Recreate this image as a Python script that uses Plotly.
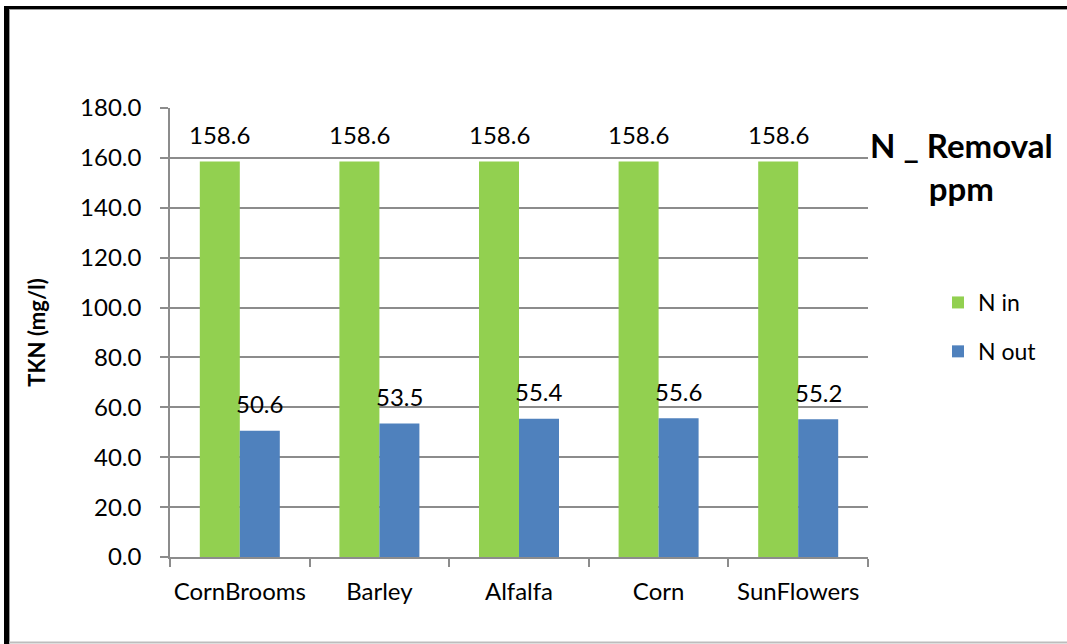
import plotly.graph_objects as go

# Crop categories and nitrogen values (TKN, mg/l)
crops = ["CornBrooms", "Barley", "Alfalfa", "Corn", "SunFlowers"]
n_in = [158.6, 158.6, 158.6, 158.6, 158.6]
n_out = [50.6, 53.5, 55.4, 55.6, 55.2]
y_ticks = [0, 20, 40, 60, 80, 100, 120, 140, 160, 180]

GREEN = "#92D050"
BLUE = "#4F81BD"
GRID = "#8C8C8C"
FONT = "Lato, 'Open Sans', sans-serif"
FS = 24

W, H = 1067, 644
L, R, T, B = 170, 199, 108, 87
PW, PH = W - L - R, H - T - B


def px(x):
    return (x - L) / PW


def py(y):
    return (H - B - y) / PH


fig = go.Figure()
fig.add_trace(go.Bar(name="N in", x=crops, y=n_in, legendgroup="a",
                     marker=dict(color=GREEN, line=dict(width=0))))
fig.add_trace(go.Bar(name="N out", x=crops, y=n_out, legendgroup="b",
                     marker=dict(color=BLUE, line=dict(width=0))))

# value labels above each bar
annotations = []
for c, v in zip(crops, n_in):
    annotations.append(dict(x=c, y=v, text=f"{v:.1f}", showarrow=False, xshift=-20, yshift=27,
                            font=dict(size=FS, color="#000000", family=FONT)))
for c, v in zip(crops, n_out):
    annotations.append(dict(x=c, y=v, text=f"{v:.1f}", showarrow=False, xshift=20, yshift=27,
                            font=dict(size=FS, color="#000000", family=FONT)))

annotations.append(dict(xref="paper", yref="paper", x=px(961), y=py(166), xanchor="center",
                        yanchor="middle", text="<b>N _ Removal<br>ppm</b>",
                        showarrow=False, align="center",
                        font=dict(size=33, color="#000000", family=FONT)))

# chart frame
shapes = [
    dict(type="line", xref="paper", yref="paper", x0=px(4), x1=px(W), y0=py(7.5), y1=py(7.5),
         line=dict(color="#000000", width=3)),
    dict(type="line", xref="paper", yref="paper", x0=px(6.5), x1=px(6.5), y0=py(6), y1=py(H),
         line=dict(color="#000000", width=5)),
    dict(type="line", xref="paper", yref="paper", x0=px(9.5), x1=px(9.5), y0=py(9), y1=py(H),
         line=dict(color="#9A9A9A", width=1)),
    dict(type="line", xref="paper", yref="paper", x0=px(9), x1=px(W), y0=py(9.5), y1=py(9.5),
         line=dict(color="#9A9A9A", width=1)),
    dict(type="line", xref="paper", yref="paper", x0=px(9), x1=px(W), y0=py(642.5), y1=py(642.5),
         line=dict(color="#BDBDBD", width=2)),
]

fig.update_layout(
    width=W, height=H,
    margin=dict(l=L, r=R, t=T, b=B, autoexpand=False),
    paper_bgcolor="#FFFFFF", plot_bgcolor="#FFFFFF",
    barmode="group", bargap=0.427, bargroupgap=0,
    font=dict(family=FONT, size=FS, color="#000000"),
    showlegend=True,
    legend=dict(x=px(938), y=py(281), xanchor="left", yanchor="top", traceorder="grouped",
                font=dict(size=23, family=FONT), tracegroupgap=16, itemwidth=30,
                bgcolor="rgba(0,0,0,0)"),
    annotations=annotations,
    shapes=shapes,
    xaxis=dict(showline=True, linecolor=GRID, linewidth=1.5, ticks="outside", tickson="boundaries",
               ticklen=8, tickcolor=GRID, tickwidth=1.5, showgrid=False, tickangle=0,
               automargin=False, tickfont=dict(size=FS, family=FONT), ticklabelstandoff=12),
    yaxis=dict(range=[0, 180], tickvals=y_ticks, tickformat=".1f", showline=True, linecolor=GRID,
               linewidth=1.5, ticks="outside", ticklen=8, tickcolor=GRID, tickwidth=1.5,
               showgrid=True, gridcolor=GRID, gridwidth=1.5, zeroline=False, automargin=False,
               tickfont=dict(size=FS, family=FONT), ticklabelstandoff=14,
               title=dict(text="<b>TKN (mg/l)</b>", font=dict(size=22, family=FONT), standoff=28)),
)

fig.write_html("out.html")
